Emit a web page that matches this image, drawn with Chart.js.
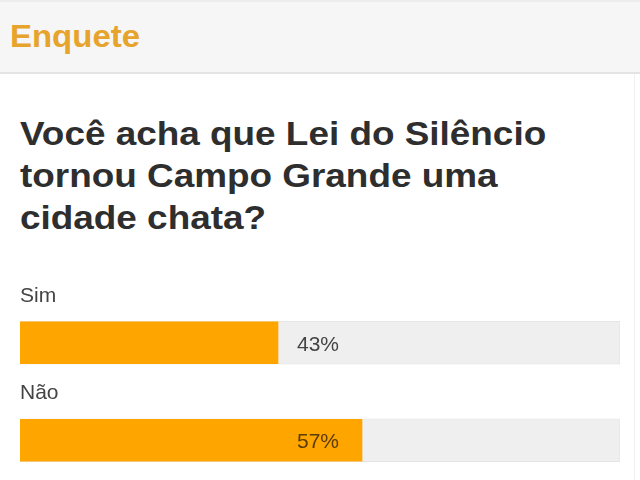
<!DOCTYPE html>
<html>
<head>
<meta charset="utf-8">
<script src="https://cdn.jsdelivr.net/npm/chart.js@4.4.1/dist/chart.umd.min.js"></script>
<style>
  html, body { margin: 0; padding: 0; width: 640px; height: 480px; overflow: hidden; background: #fff; font-family: "Liberation Sans", Arial, sans-serif; }
  #header { position: absolute; left: 0; top: 0; width: 640px; height: 74px; background: #f6f6f6; border-top: 2px solid #ececec; border-bottom: 2px solid #e4e4e4; box-sizing: border-box; }
  #header span { position: absolute; left: 10px; top: 16px; font-size: 32px; font-weight: bold; color: #e6a42c; transform: scaleX(1.03); transform-origin: left; }
  #question { position: absolute; left: 20px; top: 112px; margin: 0; font-size: 34px; line-height: 42px; font-weight: bold; color: #2e2e2e; white-space: nowrap; transform: scaleX(1.085); transform-origin: left top; }
  #edge { position: absolute; left: 634px; top: 74px; width: 1px; height: 406px; background: #f0f0f0; }
  #wrap { position: absolute; left: 0; top: 280px; width: 640px; height: 220px; }
</style>
</head>
<body>
<div id="header"><span>Enquete</span></div>
<p id="question">Você acha que Lei do Silêncio<br>tornou Campo Grande uma<br>cidade chata?</p>
<div id="edge"></div>
<div id="wrap"><canvas id="mycanvas"></canvas></div>
<script>
var options_ = ['Sim', 'Não'];
var percents = [43, 57];
var trackValues = [100, 100];

var labelPlugin = {
	id: 'pollLabels',
	afterDatasetsDraw: function(chart) {
		var ctx = chart.ctx;
		var area = chart.chartArea;
		var bars = chart.getDatasetMeta(0).data;
		ctx.save();
		ctx.font = '21px "Liberation Sans", Arial, sans-serif';
		for (var i = 0; i < bars.length; i++) {
			var y = bars[i].y;
			// option name above the bar
			ctx.fillStyle = '#444';
			ctx.textAlign = 'left';
			ctx.textBaseline = 'alphabetic';
			ctx.fillText(options_[i], area.left, y - 21 - 20);
			// percentage in the middle of the track
			ctx.fillStyle = i == 1 ? '#5a3c05' : '#444';
			ctx.textAlign = 'center';
			ctx.textBaseline = 'middle';
			ctx.fillText(percents[i] + '%', (area.left + area.right) / 2 - 2, y + 2);
		}
		ctx.restore();
	}
};

var chartdata = {
	labels: options_,
	datasets: [
		{
			label: 'Votos',
			data: percents,
			backgroundColor: '#ffa500',
			borderWidth: 0,
			barThickness: 42,
			grouped: false,
			order: 0
		},
		{
			label: 'Total',
			data: trackValues,
			backgroundColor: '#efefef',
			borderColor: '#e6e6e6',
			borderWidth: 1,
			barThickness: 43,
			grouped: false,
			order: 1
		}
	]
};

var ctx = document.getElementById('mycanvas');
var pollChart = new Chart(ctx, {
	type: 'bar',
	data: chartdata,
	plugins: [labelPlugin],
	options: {
		indexAxis: 'y',
		responsive: true,
		maintainAspectRatio: false,
		animation: false,
		layout: { padding: { left: 20, right: 20, top: 14, bottom: 11 } },
		plugins: { legend: { display: false }, tooltip: { enabled: false } },
		scales: {
			x: { min: 0, max: 100, display: false },
			y: { display: false }
		}
	}
});
</script>
</body>
</html>
